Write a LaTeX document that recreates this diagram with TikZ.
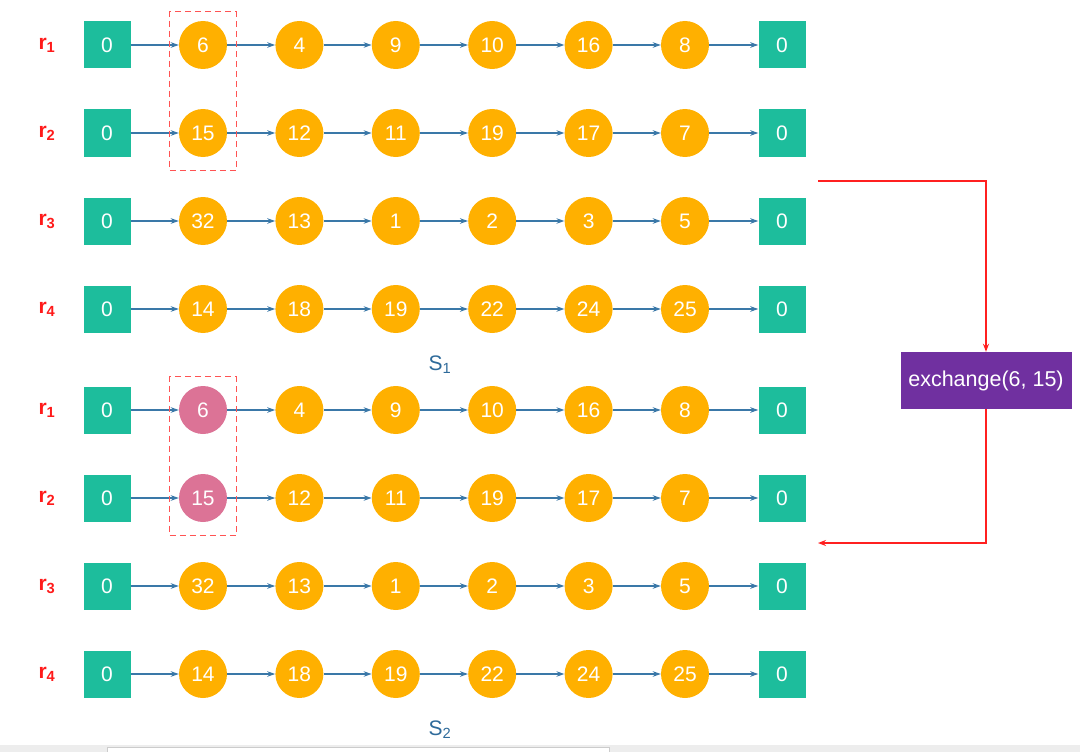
\documentclass[tikz,border=0pt]{standalone}
\usepackage{fontspec}
\setmainfont{Liberation Sans}
\usepackage{xcolor}
\usetikzlibrary{arrows.meta,positioning,fit}
\definecolor{headc}{HTML}{1DBD9C}
\definecolor{cellc}{HTML}{FFB000}
\definecolor{swapc}{HTML}{DC7396}
\definecolor{linkc}{HTML}{3A78A8}
\definecolor{markc}{HTML}{FF1A1A}
\definecolor{exch}{HTML}{7030A0}
\definecolor{setc}{HTML}{2E6A9A}
\definecolor{swapln}{HTML}{FF2020}
\tikzset{
  every node/.style={font=\fontsize{21}{24}\selectfont},
  endbox/.style={fill=headc,minimum size=47pt,inner sep=0pt,text=white},
  cell/.style={circle,fill=cellc,minimum size=48pt,inner sep=0pt,text=white},
  cell 211/.style={fill=swapc},
  cell 221/.style={fill=swapc},
  link/.style={-{Stealth[length=8pt,width=5.5pt]},draw=linkc,line width=1.3pt},
  rowlab/.style={text=markc,font=\fontsize{21}{24}\selectfont\bfseries},
  setlab/.style={text=setc,font=\fontsize{21}{24}\selectfont},
  pick/.style={draw=markc!75,line width=1pt,dash pattern=on 6pt off 4pt,
               inner xsep=9pt,inner ysep=11pt,yshift=-2pt},
  swapflow/.style={-{Stealth[length=8pt,width=6pt]},color=swapln,line width=1.5pt},
  op/.style={fill=exch,text=white,minimum width=171pt,minimum height=57pt,
             font=\fontsize{21.5}{24}\selectfont},
}

\begin{document}
\begin{tikzpicture}[x=1pt,y=-1pt]
\useasboundingbox (0,0) rectangle (1080,752);
% the two states, S1 above and S2 below
\foreach \s/\dy in {1/0,2/365}{
  \foreach \r/\vals in {1/{6,4,9,10,16,8},2/{15,12,11,19,17,7},
                        3/{32,13,1,2,3,5},4/{14,18,19,22,24,25}}{
    \node[rowlab] (lab\s\r) at (47,45+88*\r-88+\dy) {r\textsubscript{\r}};
    \node[endbox] (n\s\r0) at (107,45+88*\r-88+\dy) {0};
    \foreach \v [count=\c] in \vals
      \node[cell,cell \s\r\c/.try] (n\s\r\c) at (203+96.4*\c-96.4,45+88*\r-88+\dy) {\v};
    \node[endbox] (n\s\r7) at (782,45+88*\r-88+\dy) {0};
    \foreach \c [remember=\c as \p (initially 0)] in {1,...,7}
      \draw[link] (n\s\r\p) -- (n\s\r\c);
  }
}
\node[pick,fit=(n111)(n121)] (pick1) {};
\node[pick,fit=(n211)(n221)] (pick2) {};
\node[setlab] (set1) at (440,365) {S\textsubscript{1}};
\node[setlab] (set2) at (440,730) {S\textsubscript{2}};

% the swap step
\node[op] (swap) at (986,380.5) {exchange(6, 15)};
\coordinate (from) at (818,181);
\coordinate (back) at (818,543);
\draw[swapflow] (from) -| (swap);
\draw[swapflow] (swap) |- (back);

% strip along the lower edge
\fill[black!7] (0,745) rectangle (1080,752);
\filldraw[fill=white,draw=black!20] (107,747) rectangle (609,753);
\end{tikzpicture}
\end{document}
